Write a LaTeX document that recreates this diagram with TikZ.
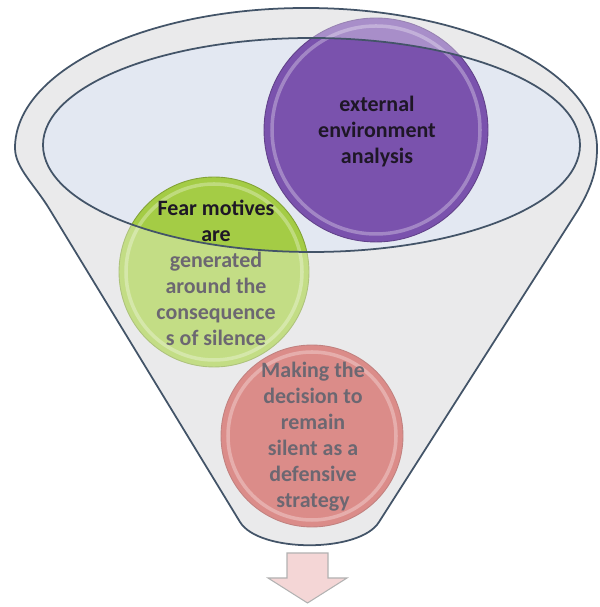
\documentclass[tikz,border=0pt]{standalone}
\usepackage{fontspec}
\setmainfont{Carlito}
\usepackage{tikz}
\usetikzlibrary{positioning}
\definecolor{Rim}{HTML}{435468}
\definecolor{Body}{HTML}{DFE0E1}
\definecolor{Mouth}{HTML}{E3E8F2}
\definecolor{Grape}{HTML}{7A52AD}
\definecolor{Lime}{HTML}{A4CC45}
\definecolor{Rose}{HTML}{C94F4B}
\definecolor{Blush}{HTML}{F4D6D6}
\definecolor{Ink}{HTML}{1E1726}
\tikzset{
  bubble/.style={circle, inner sep=0pt, draw=#1!80!black, line width=0.5pt, fill=#1},
  gloss/.style={draw=white, draw opacity=0.3, line width=2pt},
  words/.style={align=center, font=\fontsize{12.5}{14.8}\selectfont\bfseries, color=Ink},
  veil/.style={fill=white, fill opacity=0.35, even odd rule},
  rim/.style={draw=Rim, line width=1.0pt},
  outlet/.style={fill=Blush, draw=gray!60, line width=0.6pt},
}
\newcommand{\funnelshape}{(50,397) .. controls (35,422) and (15,439) .. (15,459)
  arc[start angle=180, end angle=0, x radius=291, y radius=140]
  .. controls (597,439) and (593,422) .. (578,397) -- (379,85)
  .. controls (360,54) and (259,54) .. (240,85) -- cycle}
\newcommand{\mouthshape}{(311.5,462) ellipse [x radius=268.5, y radius=107]}

\begin{document}
\begin{tikzpicture}[x=0.02cm, y=0.02cm]
  \useasboundingbox (0,0) rectangle (599,607);

  % Funnel body and mouth
  \fill[Body] \funnelshape;
  \fill[Mouth] \mouthshape;

  % Bubbles
  \node[bubble=Grape, minimum size=4.48cm] (ext) at (376,477) {};
  \draw[gloss] (ext.center) circle (104);
  \node[words] (extText) at (377,475) {external\\environment\\analysis};

  \node[bubble=Lime, minimum size=3.8cm] (fear) at (214,335) {};
  \draw[gloss] (fear.center) circle (88);
  \node[words] (fearText) at (216,334) {Fear motives\\are\\generated\\around the\\consequence\\s of silence};

  \node[bubble=Rose, minimum size=3.64cm] (silent) at (312,171) {};
  \draw[gloss] (silent.center) circle (84);
  \node[words] (silentText) at (313,170) {Making the\\decision to\\remain\\silent as a\\defensive\\strategy};

  % Veil over the funnel wall
  \path[veil] \funnelshape \mouthshape;

  % Outlines
  \draw[rim] \funnelshape;
  \draw[rim] \mouthshape;

  % Outlet arrow
  \draw[outlet] (287,54) -- (328,54) -- (328,29) -- (347,29) -- (307.5,4)
    -- (268,29) -- (287,29) -- cycle;
\end{tikzpicture}
\end{document}
